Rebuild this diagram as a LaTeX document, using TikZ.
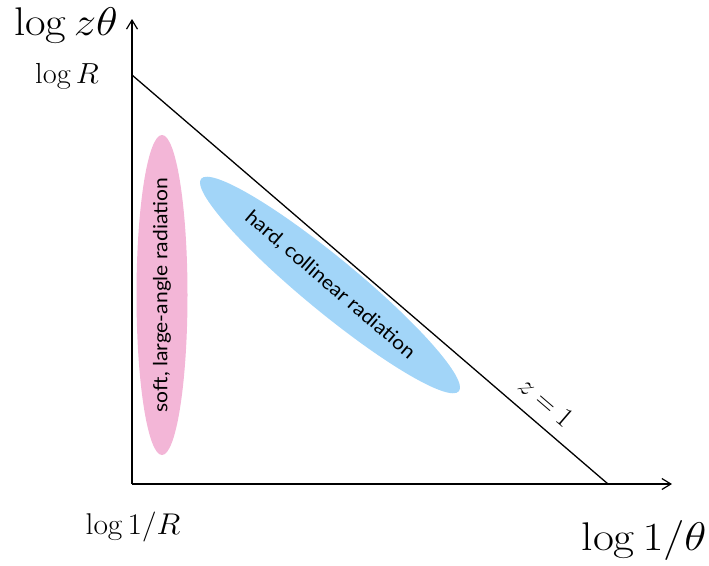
\RequirePackage{fix-cm}
\documentclass[tikz,border=0pt]{standalone}
\usepackage{fontspec}
\newfontfamily\gill[FakeStretch=1.08]{Lato}
\usetikzlibrary{arrows.meta,shapes.geometric}
\definecolor{pinkfill}{RGB}{243,182,215}
\definecolor{bluefill}{RGB}{162,213,248}
\tikzset{
  axis/.style={line width=1.3pt,-{Straight Barb[length=9pt,width=11pt,line width=1.2pt]}},
  bound/.style={line width=1.3pt},
  region/.style={ellipse,inner sep=0pt,outer sep=0pt},
  regionlabel/.style={inner sep=0pt,font=\gill\fontsize{19.5}{22}\selectfont},
  biglabel/.style={font=\fontsize{40}{44}\selectfont},
  smalllabel/.style={font=\fontsize{29}{32}\selectfont}
}
\begin{document}
\begin{tikzpicture}[x=1pt,y=-1pt]
\useasboundingbox (0,0) rectangle (709,565);
\coordinate (O) at (132,484);
\coordinate (ytip) at (132,19);
\coordinate (xtip) at (672,484);
\coordinate (A) at (132,75);
\coordinate (B) at (608,484);
\node[region,fill=pinkfill,minimum width=320pt,minimum height=51pt,rotate=90] (soft) at (162,295) {};
\node[regionlabel,rotate=90] (softlab) at (soft.center) {soft, large-angle radiation};
\node[region,fill=bluefill,minimum width=334pt,minimum height=54pt,rotate=-39.5] (hard) at (330,285) {};
\node[regionlabel,rotate=-40.5] (hardlab) at (hard.center) {hard, collinear radiation};
\draw[axis] (O) -- (ytip);
\draw[axis] (O) -- (xtip);
\draw[bound] (A) -- node[pos=0.84,above,sloped,font=\fontsize{28}{32}\selectfont,yshift=9pt] (zlab) {$z=1$} (B);
\node[biglabel,xscale=1.12] (ylab) at (66,26) {$\log z\theta$};
\node[smalllabel,xscale=1.05] (logR) at (67,76) {$\log R$};
\node[smalllabel,font=\fontsize{30}{32}\selectfont,xscale=1.05] (log1R) at (133,527) {$\log 1/R$};
\node[biglabel,xscale=1.14] (xlab) at (644,540) {$\log 1/\theta$};
\end{tikzpicture}
\end{document}
